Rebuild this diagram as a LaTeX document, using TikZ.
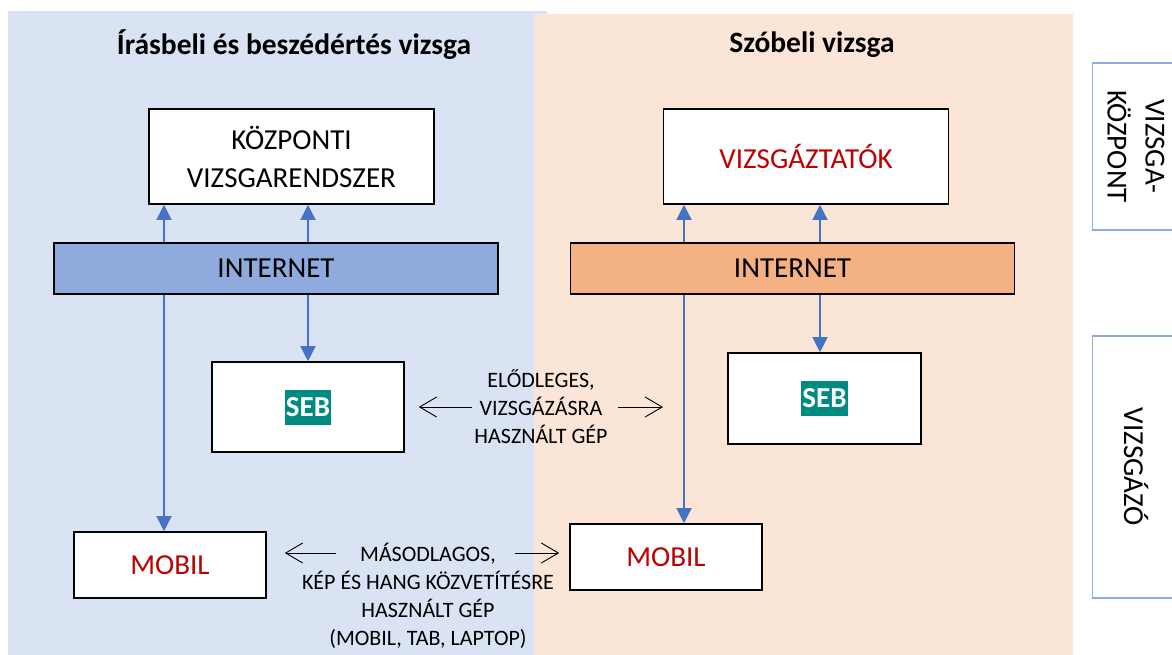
\documentclass[tikz,border=0pt]{standalone}
\usepackage{fontspec}
\setmainfont{Carlito}
\usetikzlibrary{arrows.meta,positioning}

\definecolor{bgblue}{HTML}{DAE3F3}
\definecolor{bgpeach}{HTML}{FBE5D6}
\definecolor{netblue}{HTML}{8FAADC}
\definecolor{netpeach}{HTML}{F4B183}
\definecolor{arrblue}{HTML}{4472C4}
\definecolor{redtxt}{HTML}{C00000}
\definecolor{sebteal}{HTML}{008B82}

\newcommand{\seblogo}{{\setlength{\fboxsep}{0pt}\colorbox{sebteal}{\rule[-8.5pt]{0pt}{35pt}\hspace{1pt}\textcolor{white}{\bfseries SEB}\hspace{1pt}}}}

\begin{document}
\begin{tikzpicture}[x=1pt, y=-1pt,
  every node/.style={font=\fontsize{29}{38}\selectfont},
  unit/.style={draw=black, line width=1.6pt, fill=white, align=center, inner sep=0pt},
  net/.style={unit, minimum width=444pt, minimum height=51pt},
  side/.style={draw=netblue, line width=1.6pt, fill=white, align=center, rotate=-90},
  note/.style={align=center, inner sep=4pt, font=\fontsize{22}{28}\selectfont},
  blu/.style={draw=arrblue, line width=1.3pt, -{Triangle[length=15pt,width=15pt]}},
  barb/.style={draw=black, line width=0.9pt, -{Straight Barb[length=17pt,width=20pt]}}]
  \useasboundingbox (0,0) rectangle (1172,655);

  % backgrounds
  \fill[bgblue] (8,11) rectangle (547,655);
  \fill[bgpeach] (534,14) rectangle (1073,655);

  \node[font=\fontsize{29.5}{34}\selectfont\bfseries] (titlel) at (294,45) {Írásbeli és beszédértés vizsga};
  \node[font=\fontsize{29.5}{34}\selectfont\bfseries] (titler) at (812,45) {Szóbeli vizsga};

  % left column
  \node[unit, minimum width=285pt, minimum height=95pt] (kozp) at (291.5,156.5) {KÖZPONTI\\VIZSGARENDSZER};
  \node[net, fill=netblue] (netl) at (276,268.5) {INTERNET};
  \node[unit, minimum width=192pt, minimum height=90pt] (sebl) at (308,407) {\seblogo};
  \node[unit, minimum width=192pt, minimum height=66pt, text=redtxt] (mobl) at (170,565) {MOBIL};

  % right column
  \node[unit, minimum width=285pt, minimum height=95pt, text=redtxt] (vizsg) at (806,156.5) {VIZSGÁZTATÓK};
  \node[net, fill=netpeach] (netr) at (792.5,268.5) {INTERNET};
  \node[unit, minimum width=193pt, minimum height=91pt] (sebr) at (824.5,398.5) {\seblogo};
  \node[unit, minimum width=192pt, minimum height=66pt, text=redtxt] (mobr) at (666,557) {MOBIL};

  % side labels
  \node[side, minimum width=167pt, minimum height=87pt] (kpont) at (1136,146.5) {VIZSGA-\\KÖZPONT};
  \node[side, minimum width=262pt, minimum height=87pt] (vizsgazo) at (1136,467) {VIZSGÁZÓ};

  % notes between the columns
  \node[note] (elo) at (541,407) {ELŐDLEGES,\\VIZSGÁZÁSRA\\HASZNÁLT GÉP};
  \node[note] (maso) at (428,596) {MÁSODLAGOS,\\KÉP ÉS HANG KÖZVETÍTÉSRE\\HASZNÁLT GÉP\\(MOBIL, TAB, LAPTOP)};

  % internet links
  \foreach \x in {164,308}
    \draw[blu] (\x,0 |- netl.north) -- (\x,0 |- kozp.south);
  \foreach \x in {684,820}
    \draw[blu] (\x,0 |- netr.north) -- (\x,0 |- vizsg.south);
  \draw[blu] (164,0 |- netl.south) -- (164,0 |- mobl.north);
  \draw[blu] (308,0 |- netl.south) -- (308,0 |- sebl.north);
  \draw[blu] (684,0 |- netr.south) -- (684,0 |- mobr.north);
  \draw[blu] (820,0 |- netr.south) -- (820,0 |- sebr.north);

  % black arrows
  \coordinate (eloL) at (472,407);
  \coordinate (eloR) at (618,407);
  \coordinate (eloT) at (663,407);
  \coordinate (masoL) at (336,553);
  \coordinate (masoR) at (515,553);
  \draw[barb, shorten >=14pt] (eloL) -- (eloL -| sebl.east);
  \draw[barb] (eloR) -- (eloT);
  \draw[barb, shorten >=18pt] (masoL) -- (masoL -| mobl.east);
  \draw[barb, shorten >=10pt] (masoR) -- (masoR -| mobr.west);
\end{tikzpicture}
\end{document}
